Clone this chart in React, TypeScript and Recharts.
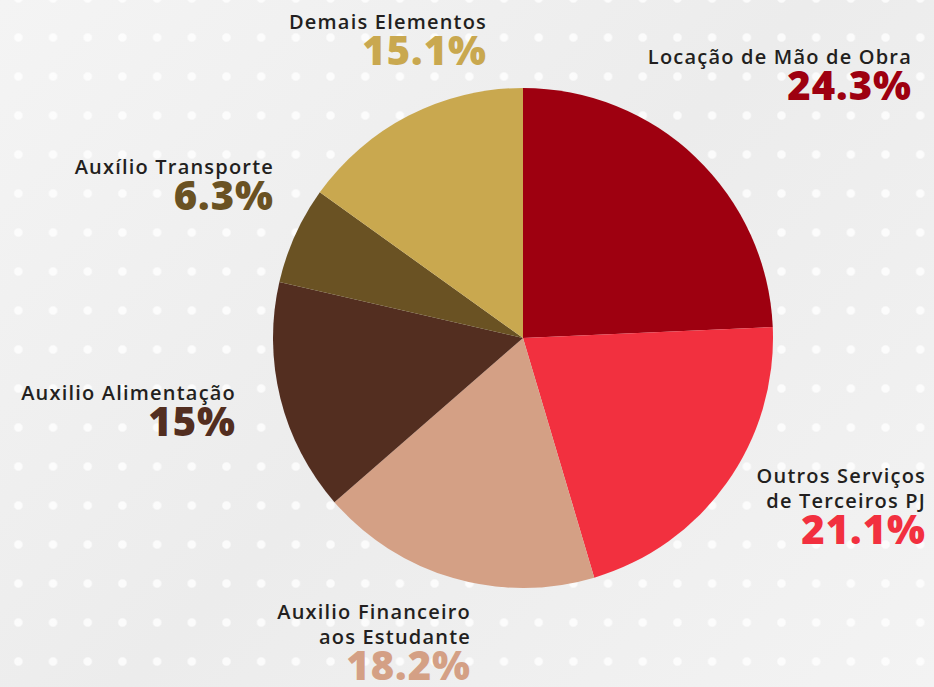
import { PieChart, Pie, Cell } from 'recharts';

const categories = [
  'Locação de Mão de Obra',
  'Outros Serviços\nde Terceiros PJ',
  'Auxilio Financeiro\naos Estudante',
  'Auxilio Alimentação',
  'Auxílio Transporte',
  'Demais Elementos',
];
const shares = [24.3, 21.1, 18.2, 15, 6.3, 15.1];
const shareLabels = ['24.3%', '21.1%', '18.2%', '15%', '6.3%', '15.1%'];
const colors = ['#9E0010', '#F2303F', '#D4A085', '#532E20', '#6A5223', '#C9A84F'];

// label block placement (right edge, top) around the pie
const labelSpots = [
  { right: 22, top: 44 },
  { right: 8, top: 463 },
  { right: 463, top: 599 },
  { right: 698, top: 380 },
  { right: 660, top: 154 },
  { right: 447, top: 9 },
];

const data = categories.map((name, i) => ({ name, value: shares[i] }));

const FONT = '"Open Sans", "Noto Sans", sans-serif';

export default function App() {
  return (
    <div
      style={{
        position: 'absolute',
        left: 0,
        top: 0,
        width: 934,
        height: 687,
        overflow: 'hidden',
        backgroundColor: '#efefef',
        backgroundImage:
          'radial-gradient(circle, rgba(255,255,255,0.8) 3.5px, rgba(255,255,255,0) 5px), linear-gradient(135deg, #f4f4f4 0%, #ececec 50%, #f3f3f3 100%)',
        backgroundSize: '34.7px 39px, 100% 100%',
        backgroundPosition: '1px 18px, 0 0',
        fontFamily: FONT,
      }}
    >
      <PieChart
        width={934}
        height={687}
        margin={{ top: 0, right: 0, bottom: 0, left: 0 }}
        style={{ position: 'absolute', left: 0, top: 0 }}
      >
        <Pie
          data={data}
          dataKey="value"
          nameKey="name"
          cx={523}
          cy={338}
          innerRadius={0}
          outerRadius={250}
          startAngle={90}
          endAngle={-270}
          stroke="none"
          isAnimationActive={false}
        >
          {data.map((d, i) => (
            <Cell key={d.name} fill={colors[i]} />
          ))}
        </Pie>
      </PieChart>
      {data.map((d, i) => (
        <div
          key={d.name}
          style={{
            position: 'absolute',
            right: labelSpots[i].right,
            top: labelSpots[i].top,
            textAlign: 'right',
            whiteSpace: 'pre',
          }}
        >
          <div
            style={{
              fontSize: 20,
              fontWeight: 600,
              color: '#231f20',
              lineHeight: '25px',
              letterSpacing: 1.2,
            }}
          >
            {d.name}
          </div>
          <div
            style={{
              fontSize: 40,
              fontWeight: 800,
              color: colors[i],
              lineHeight: '32px',
              letterSpacing: 1,
            }}
          >
            {shareLabels[i]}
          </div>
        </div>
      ))}
    </div>
  );
}
